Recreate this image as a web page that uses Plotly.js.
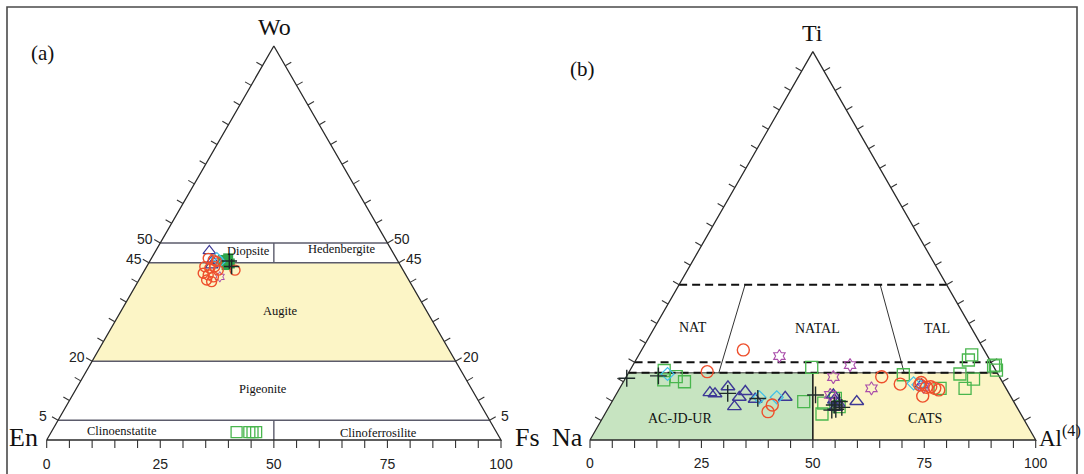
<!DOCTYPE html>
<html><head><meta charset="utf-8">
<script src="https://cdn.plot.ly/plotly-3.0.1.min.js"></script>
<style>html,body{margin:0;padding:0;background:#fff}#chart{width:1084px;height:474px}</style>
</head><body><div id="chart"></div>
<script>
// ===== Panel (a): Wo–En–Fs (%) =====
const aCircWo=[46.1,45.7,45.3,44.0,43.6,44.0,42.3,41.9,41.4,40.6,40.2,43.1,43.1];
const aCircEn=[41.4,40.5,40.0,43.2,42.3,41.0,44.4,43.5,42.6,44.5,43.6,40.7,37.0];
const aCircFs=[12.5,13.8,14.7,12.8,14.1,15.0,13.3,14.6,16.0,14.9,16.2,16.2,19.9];
const aTriWo=[48.0,45.5,44.4];
const aTriEn=[40.2,40.8,41.5];
const aTriFs=[11.8,13.7,14.1];
const aSqFillWo=[45.7,46.1,44.4,44.8];
const aSqFillEn=[38.4,37.0,38.2,37.3];
const aSqFillFs=[15.9,16.9,17.4,17.9];
const aCrossWo=[45.4,44.0];
const aCrossEn=[37.1,37.3];
const aCrossFs=[17.5,18.7];
const aDiaWo=[46.1,45.3];
const aDiaEn=[39.5,39.3];
const aDiaFs=[14.4,15.4];
const aStarWo=[41.4];
const aStarEn=[41.2];
const aStarFs=[17.4];
const aSqWo=[2,2,2,2];
const aSqEn=[57.2,54.4,53.7,52.9];
const aSqFs=[40.8,43.6,44.3,45.1];

// ===== Panel (b): Ti–Na–Al(IV) (%), Na = 100 - Ti - Al =====
const bCircTi=[23.2,17.6,9.0,7.3,16.3,14.4,14.2,11.3,13.7,13.3,12.9,13.6,14.8];
const bCircAl=[22.8,17.5,36.4,36.3,57.3,62.4,66.9,69.0,69.6,70.7,71.8,68.7,66.9];
const bTriTi=[12.2,11.9,13.7,11.0,12.5,8.6,10.5,11.0,11.6,10.3,8.4,9.9,9.5,14.2];
const bTriAl=[20.8,22.1,24.1,28.0,28.6,28.1,31.8,38.3,48.8,49.7,50.9,54.9,50.9,67.3];
const bSqTi=[17.9,15.5,16.3,15.0,18.7,9.9,9.5,6.7,8.6,10.7,16.8,13.3,17.0,15.7,13.3,20.6,21.9,19.1,18.0,19.3];
const bSqAl=[7.7,8.8,11.2,13.7,40.4,43.0,47.7,48.7,51.6,49.7,61.9,71.9,74.5,78.2,77.5,74.6,74.7,81.0,82.2,81.3];
const bCrossTi=[15.9,16.5,12.0,10.7,11.6,9.0,7.9,9.9,8.4,7.7];
const bCrossAl=[0.3,7.1,24.9,32.3,44.8,50.3,51.2,51.0,52.3,50.4];
const bDiaTi=[17.0,11.0,11.0,14.6,14.2];
const bDiaAl=[8.9,32.5,36.4,65.3,66.6];
const bStarTi=[21.6,19.3,16.2,13.3,11.6,13.7];
const bStarAl=[31.7,48.7,46.5,56.5,48.1,68.0];

// classification boundaries [top, right] in %
const aLevels=[50,45,20,5];
const aAugite=[[45,0],[45,55],[20,80],[20,0]];
const aDividers=[[[45,27.5],[50,25]],[[0,50],[5,47.5]]];
const bDashLevels=[17.3,20,40];
const bGreen=[[0,0],[17.3,0],[17.3,41.35],[0,50]];
const bYellow=[[0,50],[17.3,41.35],[17.3,82.7],[0,100]];
const bSeparators=[[[40,14.8],[17.3,20.25]],[[40,45.1],[17.3,61.85]]];
const bottomTickLabels=[0,25,50,75,100];

// ===== geometry =====
const W=1084,H=474;
const XR=[-6,106],YR=[-3,92];
const geo={a:{x0:46.7,y0:440,sx:4.543,sy:4.55},b:{x0:590,y0:440,sx:4.457,sy:4.484}};
function dom(g){return{x:[(g.x0+XR[0]*g.sx)/W,(g.x0+XR[1]*g.sx)/W],y:[(H-(g.y0-YR[0]*g.sy))/H,(H-(g.y0-YR[1]*g.sy))/H]};}
const S3=Math.sqrt(3)/2;
function tx(T,R){return R+T/2;}
function ty(T){return T*S3;}

const traces=[];
function polyFill(verts,color,xa,ya){
  const xs=verts.map(v=>tx(v[0],v[1]));const ys=verts.map(v=>ty(v[0]));
  xs.push(xs[0]);ys.push(ys[0]);
  traces.push({x:xs,y:ys,xaxis:xa,yaxis:ya,mode:'lines',fill:'toself',fillcolor:color,line:{width:0,color:color},hoverinfo:'skip',showlegend:false});
}
function segs(list,xa,ya,line){
  const xs=[],ys=[];
  list.forEach(s=>{s.forEach(p=>{xs.push(tx(p[0],p[1]));ys.push(ty(p[0]));});xs.push(null);ys.push(null);});
  traces.push({x:xs,y:ys,xaxis:xa,yaxis:ya,mode:'lines',line:line,hoverinfo:'skip',showlegend:false,connectgaps:false});
}
function ticks(xa,ya,g){
  const xs=[],ys=[];
  const L=7/g.sx, Lb=8/g.sy;
  for(let v=0;v<=100;v+=5){xs.push(v,v,null);ys.push(0,-Lb,null);}
  for(let t=5;t<100;t+=5){
    const lx=tx(t,0),ly=ty(t);
    xs.push(lx,lx-L*S3,null);ys.push(ly,ly+L*0.5,null);
    const rx=tx(t,100-t);
    xs.push(rx,rx+L*S3,null);ys.push(ly,ly+L*0.5,null);
  }
  traces.push({x:xs,y:ys,xaxis:xa,yaxis:ya,mode:'lines',line:{color:'#333',width:1.1},hoverinfo:'skip',showlegend:false});
}
function pts(T,R,xa,ya,marker){
  traces.push({x:T.map((t,i)=>tx(t,R[i])),y:T.map(t=>ty(t)),xaxis:xa,yaxis:ya,mode:'markers',marker:marker,cliponaxis:false,hoverinfo:'skip',showlegend:false});
}
const edge=[[[0,0],[100,0],[0,100],[0,0]]];
const RED='#EE4F2C',BLUE='#3D3896',GREEN='#49B64E',BLK='#1E2A2A',CYAN='#40C0EA',PURP='#A94DAA';

// ---- panel a ----
polyFill(aAugite,'#FCF5C6','x','y');
segs(aLevels.map(t=>[[t,0],[t,100-t]]),'x','y',{color:'#5b5b6b',width:1.4});
segs(aDividers,'x','y',{color:'#5b5b6b',width:1.4});
segs(edge,'x','y',{color:'#2a2a2a',width:1.3});
ticks('x','y',geo.a);
pts(aSqWo,aSqFs,'x','y',{symbol:'square-open',size:11,color:GREEN,line:{width:1.3,color:GREEN}});
pts(aSqFillWo,aSqFillFs,'x','y',{symbol:'square',size:10,color:'#2FA54A',line:{width:0}});
pts(aTriWo,aTriFs,'x','y',{symbol:'triangle-up-open',size:11,color:BLUE,line:{width:1.2,color:BLUE}});
pts(aDiaWo,aDiaFs,'x','y',{symbol:'diamond-open',size:9,color:CYAN,line:{width:1.2,color:CYAN}});
pts(aStarWo,aStarFs,'x','y',{symbol:'hexagram-open',size:8,color:PURP,line:{width:1,color:PURP}});
pts(aCircWo,aCircFs,'x','y',{symbol:'circle-open',size:10,color:RED,line:{width:1.4,color:RED}});
pts(aCrossWo,aCrossFs,'x','y',{symbol:'cross-thin-open',size:11,color:BLK,line:{width:1.5,color:BLK}});

// ---- panel b ----
polyFill(bGreen,'#C7E4C1','x2','y2');
polyFill(bYellow,'#FCF5C6','x2','y2');
segs([[[17.3,0],[17.3,82.7]]],'x2','y2',{color:'#333',width:1});
segs([[[0,50],[17.3,41.35]]],'x2','y2',{color:'#111',width:1.5});
segs(bSeparators,'x2','y2',{color:'#333',width:1});
segs(bDashLevels.map(t=>[[t,0],[t,100-t]]),'x2','y2',{color:'#111',width:2,dash:'8px,5px'});
segs(edge,'x2','y2',{color:'#2a2a2a',width:1.3});
ticks('x2','y2',geo.b);
pts(bSqTi,bSqAl,'x2','y2',{symbol:'square-open',size:12,color:GREEN,line:{width:1.3,color:GREEN}});
pts(bTriTi,bTriAl,'x2','y2',{symbol:'triangle-up-open',size:12,color:BLUE,line:{width:1.4,color:BLUE}});
pts(bDiaTi,bDiaAl,'x2','y2',{symbol:'diamond-open',size:10,color:CYAN,line:{width:1.2,color:CYAN}});
pts(bStarTi,bStarAl,'x2','y2',{symbol:'hexagram-open',size:10,color:PURP,line:{width:1.1,color:PURP}});
pts(bCircTi,bCircAl,'x2','y2',{symbol:'circle-open',size:12,color:RED,line:{width:1.4,color:RED}});
pts(bCrossTi,bCrossAl,'x2','y2',{symbol:'cross-thin-open',size:12,color:BLK,line:{width:1.4,color:BLK}});

// ===== layout =====
const da=dom(geo.a),db=dom(geo.b);
const numFont={family:'Liberation Sans, Arial, sans-serif',size:14,color:'#222'};
function xax(d){return{domain:d.x,range:XR,showgrid:false,zeroline:false,showline:false,ticks:'',tickvals:bottomTickLabels,ticktext:bottomTickLabels.map(String),tickfont:numFont,fixedrange:true};}
function yax(d,anchor){return{domain:d.y,range:YR,visible:false,anchor:anchor,fixedrange:true};}
const serif='Liberation Serif, Times New Roman, serif';
function P(text,px,py,size,opts){return Object.assign({text:text,x:px/W,y:1-py/H,xref:'paper',yref:'paper',showarrow:false,xanchor:'center',yanchor:'middle',font:{family:serif,size:size,color:'#111'}},opts||{});}
const anns=[
  P('Wo',274,27,24),P('En',23,437,26),P('Fs',527,437,26),P('(a)',42,53,21),
  P('Ti',812,33,24),P('(b)',582,69,21),P('Na',567,437,26),
  P('Al<sup>(4)</sup>',1037,436,23,{xanchor:'left'}),
  P('Diopsite',248,251,12.5),P('Hedenbergite',342,249,12.5),P('Augite',280,311,12.5),
  P('Pigeonite',263,389,12.5),P('Clinoenstatite',122,431,12.5),P('Clinoferrosilite',378,433,12.5),
  P('NAT',693,327,14),P('NATAL',817,328,14),P('TAL',937,328,14),P('AC-JD-UR',680,418,14),P('CATS',925,418,14)
];
aLevels.forEach(t=>{
  anns.push({text:String(t),x:tx(t,0),y:ty(t),xref:'x',yref:'y',xshift:-15,yshift:4,showarrow:false,font:numFont,xanchor:'center',yanchor:'middle'});
  anns.push({text:String(t),x:tx(t,100-t),y:ty(t),xref:'x',yref:'y',xshift:15,yshift:4,showarrow:false,font:numFont,xanchor:'center',yanchor:'middle'});
});
const layout={
  width:W,height:H,margin:{l:0,r:0,t:0,b:0},paper_bgcolor:'#fff',plot_bgcolor:'rgba(0,0,0,0)',showlegend:false,
  xaxis:Object.assign(xax(da),{anchor:'y'}),yaxis:yax(da,'x'),
  xaxis2:Object.assign(xax(db),{anchor:'y2'}),yaxis2:yax(db,'x2'),
  annotations:anns,
  shapes:[{type:'rect',xref:'paper',yref:'paper',x0:7/W,x1:1077/W,y0:-0.2,y1:1-7/H,line:{color:'#4a4a4a',width:1.6},fillcolor:'rgba(0,0,0,0)'}]
};
Plotly.newPlot('chart',traces,layout,{staticPlot:true,displayModeBar:false});
</script></body></html>
